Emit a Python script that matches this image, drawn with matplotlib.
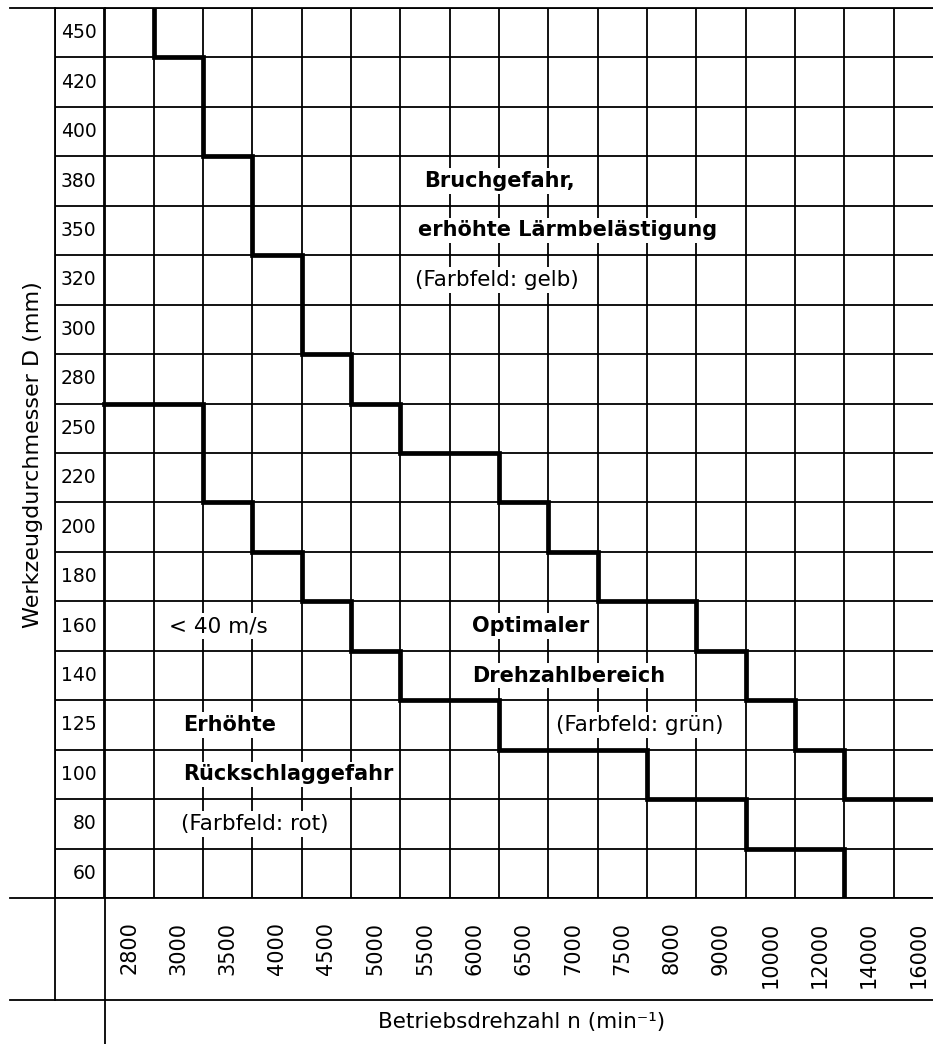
import numpy as np
import matplotlib
matplotlib.use("Agg")
import matplotlib.pyplot as plt

# diameter rows (bottom -> top) and speed columns (left -> right)
diameters = [60, 80, 100, 125, 140, 160, 180, 200, 220, 250, 280, 300, 320, 350, 380, 400, 420, 450]
speeds = [2800, 3000, 3500, 4000, 4500, 5000, 5500, 6000, 6500, 7000, 7500,
          8000, 9000, 10000, 12000, 14000, 16000]

# largest allowed diameter per speed (upper step line)
d_max = [450, 420, 380, 320, 280, 250, 220, 220, 200, 180, 160, 160, 140, 125, 100, 80, 80]
# smallest optimal diameter per speed (lower step line)
d_min = [280, 280, 220, 200, 180, 160, 140, 140, 125, 125, 125, 100, 100, 80, 80, 60, 60]

labels = [
    ("Bruchgefahr,", 6.48, 14.5, "bold"),
    ("erhöhte Lärmbelästigung", 6.35, 13.5, "bold"),
    ("(Farbfeld: gelb)", 6.3, 12.5, "normal"),
    ("< 40 m/s", 1.32, 5.5, "normal"),
    ("Optimaler", 7.45, 5.5, "bold"),
    ("Drehzahlbereich", 7.45, 4.5, "bold"),
    ("(Farbfeld: grün)", 9.15, 3.5, "normal"),
    ("Erhöhte", 1.6, 3.5, "bold"),
    ("Rückschlaggefahr", 1.6, 2.5, "bold"),
    ("(Farbfeld: rot)", 1.55, 1.5, "normal"),
]

W, H = 933, 1044
nrow = len(diameters)
top = nrow


def stair(levels):
    pts = [(0, levels[0])]
    for i, L in enumerate(levels):
        if i > 0:
            pts.append((i, L))
        pts.append((i + 1, L))
    # drop stretches that lie on the border of the grid
    while len(pts) > 1 and pts[0][1] in (0, top) and pts[1][1] == pts[0][1]:
        pts.pop(0)
    while len(pts) > 1 and pts[-1][1] in (0, top) and pts[-2][1] == pts[-1][1]:
        pts.pop()
    return np.array(pts, dtype=float)


upper = [diameters.index(d) + 1 for d in d_max]
lower = [diameters.index(d) for d in d_min]

plt.rcParams['font.family'] = 'DejaVu Sans'
fig = plt.figure(figsize=(W / 100, H / 100), dpi=100)

# frame lines around the table
frame = fig.add_axes([0, 0, 1, 1])
frame.set_xlim(0, W)
frame.set_ylim(H, 0)
frame.axis('off')
lw = 1.3
frame.plot([10, W], [8, 8], color='black', lw=lw)
frame.plot([10, W], [898, 898], color='black', lw=lw)
frame.plot([10, W], [1000, 1000], color='black', lw=lw)
frame.plot([55, 55], [8, 1000], color='black', lw=lw)
frame.plot([105, 105], [8, H], color='black', lw=lw)
frame.text(33, 455, "Werkzeugdurchmesser D (mm)", rotation=90, ha='center', va='center', fontsize=16)
frame.text(522, 1022, "Betriebsdrehzahl n (min⁻¹)", ha='center', va='center', fontsize=15.5)

ax = fig.add_axes([55 / W, (H - 898) / H, (W - 55) / W, 890 / H])
ax.patch.set_alpha(0)
ax.set_xlim(-1, (W - 105) / 49.3)
ax.set_ylim(0, top)
for s in ax.spines.values():
    s.set_visible(False)

ax.hlines(np.arange(top + 1), -1, len(speeds) + 1, color='black', lw=lw, zorder=1)
ax.vlines(np.arange(-1, len(speeds)), 0, top, color='black', lw=lw, zorder=1)

for j, d in enumerate(diameters):
    ax.text(-0.16, j + 0.5, str(d), ha='right', va='center', fontsize=13.5)

ax.set_yticks([])
ax.set_xticks(np.arange(len(speeds)) + 0.5)
ax.set_xticklabels([str(s) for s in speeds], rotation=90, fontsize=15)
ax.tick_params(axis='x', length=0, pad=17)

for txt, x, y, wt in labels:
    ax.text(x, y, txt, ha='left', va='center', fontsize=15 if wt == 'bold' else 15.5,
            fontweight=wt, zorder=2,
            bbox=dict(facecolor='white', edgecolor='none', pad=2))

for lev in (upper, lower):
    p = stair(lev)
    ax.plot(p[:, 0], p[:, 1], color='black', lw=3.4, solid_joinstyle='miter', zorder=3)

fig.savefig("out.png", dpi=100)
